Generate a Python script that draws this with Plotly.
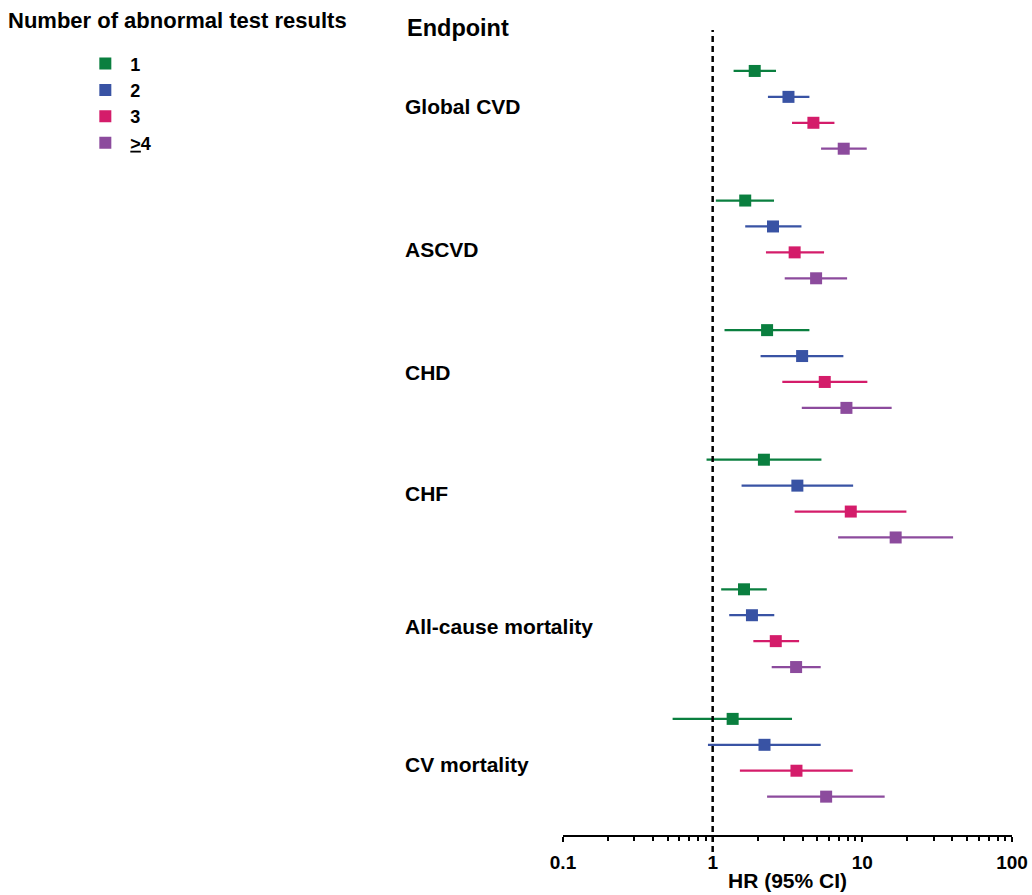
import plotly.graph_objects as go

# ---------------- data ----------------
endpoints = ["Global CVD", "ASCVD", "CHD", "CHF", "All-cause mortality", "CV mortality"]
series_names = ["1", "2", "3", "<u>&gt;</u>4"]

hr_1 = [1.91, 1.65, 2.31, 2.20, 1.62, 1.36]
lo_1 = [1.38, 1.05, 1.20, 0.91, 1.14, 0.54]
hi_1 = [2.65, 2.57, 4.43, 5.33, 2.30, 3.39]

hr_2 = [3.21, 2.53, 3.96, 3.68, 1.83, 2.22]
lo_2 = [2.34, 1.65, 2.09, 1.56, 1.29, 0.93]
hi_2 = [4.43, 3.92, 7.47, 8.68, 2.58, 5.27]

hr_3 = [4.71, 3.53, 5.61, 8.37, 2.64, 3.63]
lo_3 = [3.39, 2.27, 2.92, 3.53, 1.87, 1.52]
hi_3 = [6.51, 5.55, 10.8, 19.7, 3.78, 8.63]

hr_4 = [7.51, 4.91, 7.83, 16.7, 3.61, 5.73]
lo_4 = [5.30, 3.03, 3.94, 6.89, 2.48, 2.31]
hi_4 = [10.7, 7.91, 15.7, 40.4, 5.27, 14.1]

tick_vals = [0.1, 1, 10, 100]
tick_text = ["0.1", "1", "10", "100"]

# ---------------- style ----------------
colors = ["#0a7f3f", "#3953a4", "#d41c6a", "#8c4b9d"]
FONT = "Arial, Liberation Sans, sans-serif"
ROWS_PER_GROUP = 5

hrs = [hr_1, hr_2, hr_3, hr_4]
los = [lo_1, lo_2, lo_3, lo_4]
his = [hi_1, hi_2, hi_3, hi_4]

fig = go.Figure()
for k, name in enumerate(series_names):
    ys = [ROWS_PER_GROUP * g + k for g in range(len(endpoints))]
    fig.add_trace(go.Scatter(
        x=hrs[k], y=ys, mode="markers", name=name,
        marker=dict(symbol="square", size=12, color=colors[k], line=dict(width=0)),
        error_x=dict(type="data", symmetric=False,
                     array=[h - m for h, m in zip(his[k], hrs[k])],
                     arrayminus=[m - l for m, l in zip(hrs[k], los[k])],
                     color=colors[k], thickness=2.2, width=0),
        hoverinfo="x+y",
    ))

# endpoint labels (left-aligned, left of plot area)
label_pos = [1.39, 6.87, 11.64, 16.32, 21.44, 26.77]
annotations = []
for name, yp in zip(endpoints, label_pos):
    annotations.append(dict(text="<b>%s</b>" % name, x=-0.356, xref="paper", y=yp, yref="y",
                            xanchor="left", yanchor="middle", showarrow=False,
                            font=dict(family=FONT, size=21, color="black")))
annotations.append(dict(text="<b>Endpoint</b>", x=-0.352, xref="paper", y=1.002, yref="paper",
                        xanchor="left", yanchor="middle", showarrow=False,
                        font=dict(family=FONT, size=23.5, color="black")))
annotations.append(dict(text="<b>Number of abnormal test results</b>", x=-1.24, xref="paper",
                        y=1.0124, yref="paper", xanchor="left", yanchor="middle", showarrow=False,
                        font=dict(family=FONT, size=22, color="black")))

minor_vals = [m * 10 ** e for e in (-1, 0, 1) for m in range(2, 10)]

fig.update_layout(
    width=1032, height=895,
    margin=dict(l=563, r=20, t=30, b=60, autoexpand=False),
    paper_bgcolor="white", plot_bgcolor="white",
    font=dict(family=FONT, color="black"),
    showlegend=True,
    legend=dict(x=-1.075, xanchor="left", y=0.981, yanchor="top", itemwidth=40,
                font=dict(family=FONT, size=18, color="black", weight="bold"),
                bgcolor="rgba(0,0,0,0)", itemclick=False, itemdoubleclick=False),
    annotations=annotations,
    shapes=[dict(type="line", xref="x", yref="paper", x0=1, x1=1, y0=-0.021, y1=1.0,
                 line=dict(color="black", width=2.5, dash="6px,4px"), layer="above")],
    xaxis=dict(type="log", range=[-1, 2], tickmode="array", tickvals=tick_vals, ticktext=tick_text,
               automargin=False, ticklabelstandoff=4,
               showgrid=False, zeroline=False, showline=True, linecolor="black", linewidth=2,
               ticks="outside", ticklen=5, tickwidth=2, tickcolor="black",
               tickfont=dict(family=FONT, size=19, color="black", weight="bold"),
               minor=dict(tickmode="array", tickvals=minor_vals, ticks="outside", ticklen=4,
                          tickwidth=2, tickcolor="black", showgrid=False),
               title=dict(text="<b>HR (95% CI)</b>", font=dict(family=FONT, size=21, color="black"),
                          standoff=2)),
    yaxis=dict(range=[29.48, -1.58], showgrid=False, zeroline=False, showline=False,
               showticklabels=False, ticks="", automargin=False),
)

fig.write_html("out.html")
